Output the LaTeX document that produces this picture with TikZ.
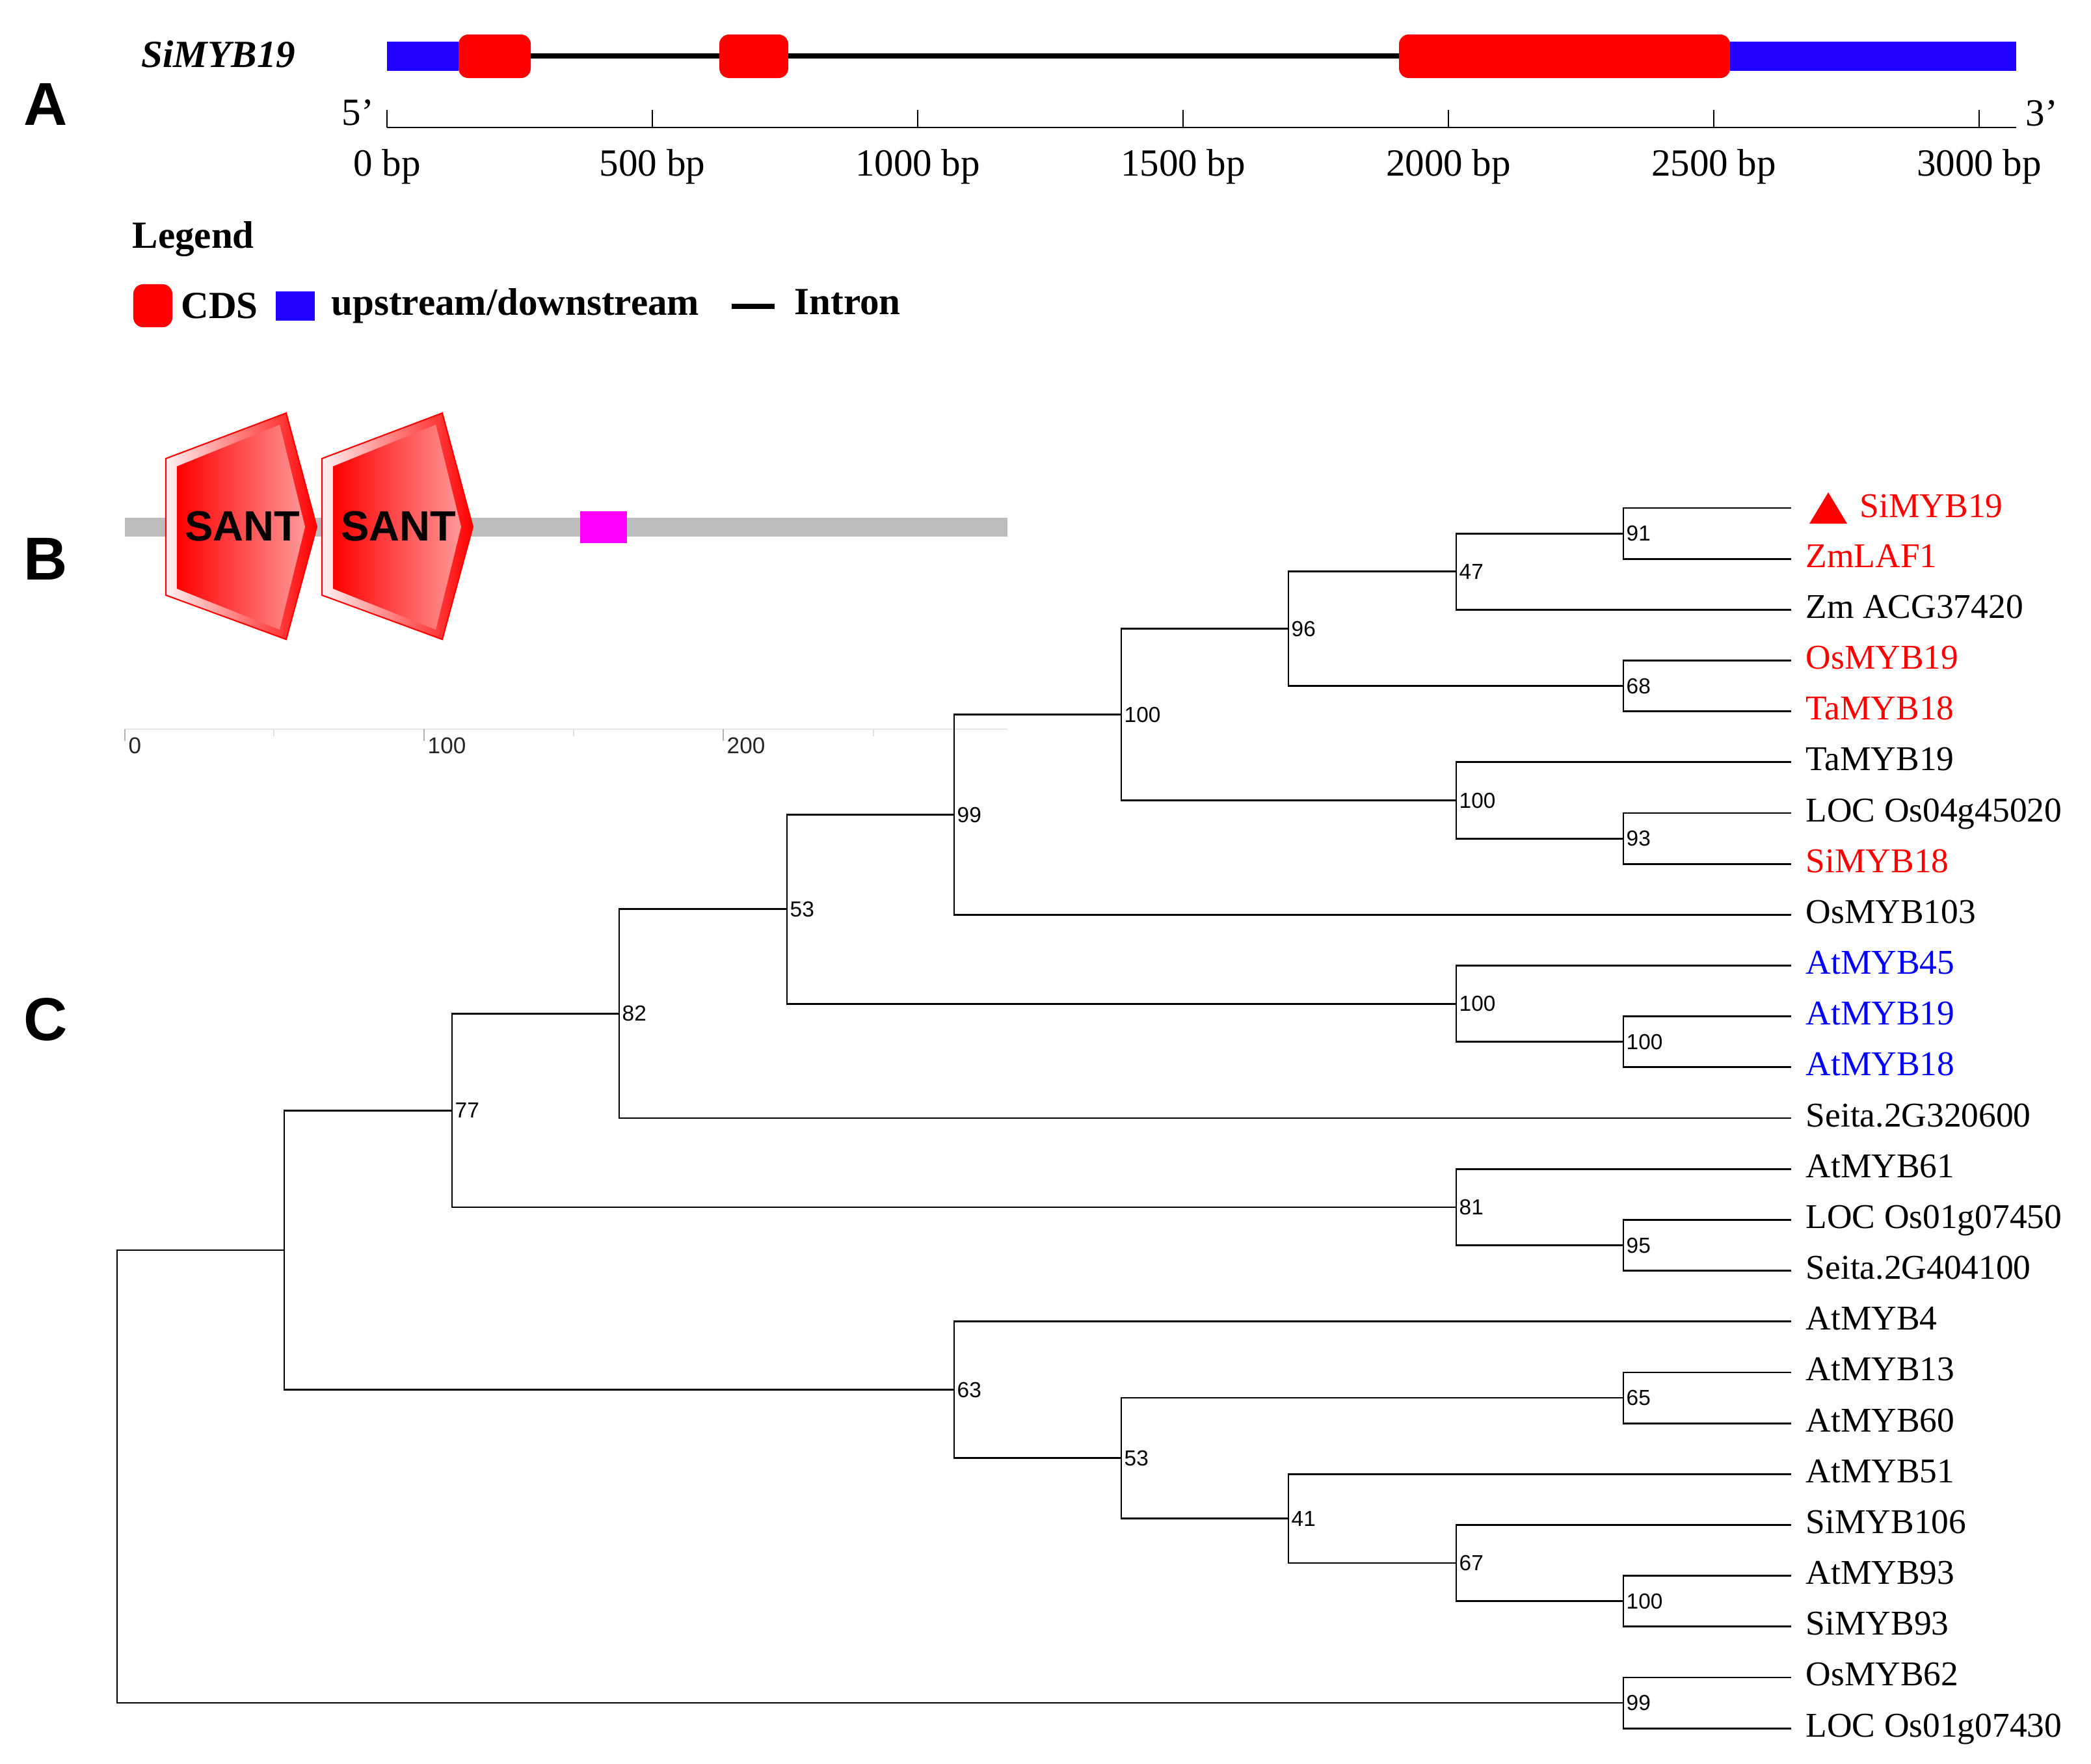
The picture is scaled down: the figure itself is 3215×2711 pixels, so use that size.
\documentclass[tikz,border=0pt]{standalone}
\usepackage{fontspec}
\setmainfont{Liberation Serif}
\setsansfont{Liberation Sans}
\usetikzlibrary{positioning}
\definecolor{genered}{HTML}{FF0000}
\definecolor{geneblue}{HTML}{2200FF}
\definecolor{treered}{HTML}{FF0000}
\definecolor{treeblue}{HTML}{0000FF}
\definecolor{motifpink}{HTML}{FF00FF}
\definecolor{bargray}{HTML}{BDBDBD}

\begin{document}
\begin{tikzpicture}[x=0.01cm, y=-0.01cm,
    panel/.style={font=\sffamily\bfseries\fontsize{26.5}{30}\selectfont, inner sep=0pt},
    legtext/.style={font=\bfseries\fontsize{16.8}{20}\selectfont, inner sep=0pt},
    bplabel/.style={font=\fontsize{16.8}{20}\selectfont, inner sep=0pt, anchor=base},
    cds/.style={fill=genered, rounded corners=0.15cm},
    utr/.style={fill=geneblue},
    sant/.style={font=\sffamily\bfseries\fontsize{18.5}{22}\selectfont, inner sep=0pt},
    scalelab/.style={font=\sffamily\fontsize{10}{12}\selectfont, inner sep=0pt, anchor=north west, text=black!85},
    branch/.style={line width=0.8pt},
    leaf/.style={font=\fontsize{15.2}{18}\selectfont, inner sep=0pt, anchor=base west},
    boot/.style={font=\sffamily\fontsize{9.5}{11}\selectfont, inner sep=0pt, anchor=west, xshift=0.04cm}]

  \useasboundingbox (0,0) rectangle (3215,2711);

  % A: gene structure
  \node[panel] (pA) at (70,160) {A};
  \node[legtext, anchor=base west, font=\bfseries\itshape\fontsize{16.8}{20}\selectfont] (gene) at (217,103) {SiMYB19};
  \fill[utr] (595,64) rectangle (705,109);
  \fill[utr] (2660,64) rectangle (3100,109);
  \draw[line width=2pt] (705,86) -- (2151,86);
  \foreach \a/\b in {705/816, 1106/1212, 2151/2660}
    \fill[cds] (\a,53) rectangle (\b,120);

  \draw[line width=0.8pt] (595,196) -- (3100,196);
  \foreach \k [evaluate=\k as \bpval using int(500*\k)] in {0,...,6} {
    \draw[line width=0.6pt] ({595+408*\k},169) -- ({595+408*\k},196);
    \node[bplabel] (bp\k) at ({595+408*\k},270) {\bpval\ bp};
  }
  \node[bplabel, anchor=base west] (five) at (525,192) {5’};
  \node[bplabel, anchor=base west] (three) at (3114,193) {3’};

  \node[legtext, anchor=base west] (leg) at (203,381) {Legend};
  \node[cds, minimum width=0.6cm, minimum height=0.66cm] (cdskey) at (235,470) {};
  \node[legtext, right=0.12cm of cdskey] (cdslab) {CDS};
  \node[utr, minimum width=0.6cm, minimum height=0.45cm, right=0.26cm of cdslab] (utrkey) {};
  \node[legtext, right=0.24cm of utrkey] (utrlab) {upstream/downstream};
  \draw[line width=2.3pt] (1125,471) -- (1191,471);
  \node[legtext, anchor=base west] (intron) at (1221,483) {Intron};

  % B: protein domains
  \node[panel] (pB) at (70,859) {B};
  \fill[bargray] (192,796) rectangle (1549,825);
  \foreach \dx/\nm in {0/s1, 240/s2} {
    \path[draw=genered, line width=0.6pt, left color=red!5, right color=genered]
      ({\dx+255},705) -- ({\dx+440},635) -- ({\dx+487},810) -- ({\dx+440},983) -- ({\dx+255},915) -- cycle;
    \path[left color=genered, right color=red!8]
      ({\dx+272},717) -- ({\dx+430},653) -- ({\dx+469},810) -- ({\dx+430},968) -- ({\dx+272},905) -- cycle;
    \path[top color=genered, middle color=white, bottom color=genered, opacity=0.35]
      ({\dx+272},717) -- ({\dx+430},653) -- ({\dx+469},810) -- ({\dx+430},968) -- ({\dx+272},905) -- cycle;
    \node[sant] (\nm) at ({\dx+373},809) {SANT};
  }
  \fill[motifpink] (892,786) rectangle (964,835);

  \draw[gray!20, line width=0.6pt] (192,1121) -- (1549,1121);
  \foreach \t in {421, 882, 1343}
    \draw[gray!25, line width=0.6pt] (\t,1121) -- (\t,1132);
  \foreach \t/\v in {192/0, 652/100, 1112/200} {
    \draw[gray!60, line width=0.6pt] (\t,1121) -- (\t,1139);
    \node[scalelab] (sc\v) at ({\t+5},1133) {\v};
  }

  % C: tree
  \node[panel] (pC) at (70,1567) {C};
  \foreach \i in {0,...,24}
    \coordinate (l\i) at (2754,{781+78.17*\i});

  \coordinate (n91) at (2496,820.1);
  \coordinate (n47) at (2239,878.7);
  \coordinate (n68) at (2496,1054.6);
  \coordinate (n96) at (1981,966.6);
  \coordinate (n93) at (2496,1289.1);
  \coordinate (n100a) at (2239,1230.5);
  \coordinate (n100b) at (1724,1098.6);
  \coordinate (n99a) at (1467,1252.5);
  \coordinate (n100c) at (2496,1601.8);
  \coordinate (n100d) at (2239,1543.2);
  \coordinate (n53a) at (1210,1397.8);
  \coordinate (n82) at (952,1558.4);
  \coordinate (n95) at (2496,1914.5);
  \coordinate (n81) at (2239,1855.9);
  \coordinate (n77) at (695,1707.1);
  \coordinate (n65) at (2496,2149.0);
  \coordinate (n100e) at (2496,2461.7);
  \coordinate (n67) at (2239,2403.0);
  \coordinate (n41) at (1981,2334.6);
  \coordinate (n53b) at (1724,2241.8);
  \coordinate (n63) at (1467,2136.8);
  \coordinate (nA) at (437,1922.0);
  \coordinate (n99b) at (2496,2618.0);
  \coordinate (root) at (180,2270.0);

  \foreach \p/\c in {n91/l0, n91/l1, n47/n91, n47/l2, n68/l3, n68/l4, n96/n47, n96/n68,
      n93/l6, n93/l7, n100a/l5, n100a/n93, n100b/n96, n100b/n100a, n99a/n100b, n99a/l8,
      n100c/l10, n100c/l11, n100d/l9, n100d/n100c, n53a/n99a, n53a/n100d, n82/n53a, n82/l12,
      n95/l14, n95/l15, n81/l13, n81/n95, n77/n82, n77/n81,
      n65/l17, n65/l18, n100e/l21, n100e/l22, n67/l20, n67/n100e, n41/l19, n41/n67,
      n53b/n65, n53b/n41, n63/l16, n63/n53b, nA/n77, nA/n63,
      n99b/l23, n99b/l24, root/nA, root/n99b}
    \draw[branch] (\p) |- (\c);

  \foreach \n/\v in {n91/91, n47/47, n68/68, n96/96, n93/93, n100a/100, n100b/100, n99a/99,
      n100c/100, n100d/100, n53a/53, n82/82, n95/95, n81/81, n77/77, n65/65, n100e/100,
      n67/67, n41/41, n53b/53, n63/63, n99b/99}
    \node[boot] (b\n) at (\n) {\v};

  \fill[treered] (2782,805) -- (2840,805) -- (2811,757) -- cycle;
  \node[leaf, text=treered] (t0) at (2859,795) {SiMYB19};
  \foreach \nm/\cl [count=\i] in {ZmLAF1/treered, Zm ACG37420/black, OsMYB19/treered,
      TaMYB18/treered, TaMYB19/black, LOC Os04g45020/black, SiMYB18/treered, OsMYB103/black,
      AtMYB45/treeblue, AtMYB19/treeblue, AtMYB18/treeblue, Seita.2G320600/black,
      AtMYB61/black, LOC Os01g07450/black, Seita.2G404100/black, AtMYB4/black,
      AtMYB13/black, AtMYB60/black, AtMYB51/black, SiMYB106/black, AtMYB93/black,
      SiMYB93/black, OsMYB62/black, LOC Os01g07430/black}
    \node[leaf, text=\cl] (t\i) at ([shift={(22,13)}]l\i) {\nm};
\end{tikzpicture}
\end{document}
